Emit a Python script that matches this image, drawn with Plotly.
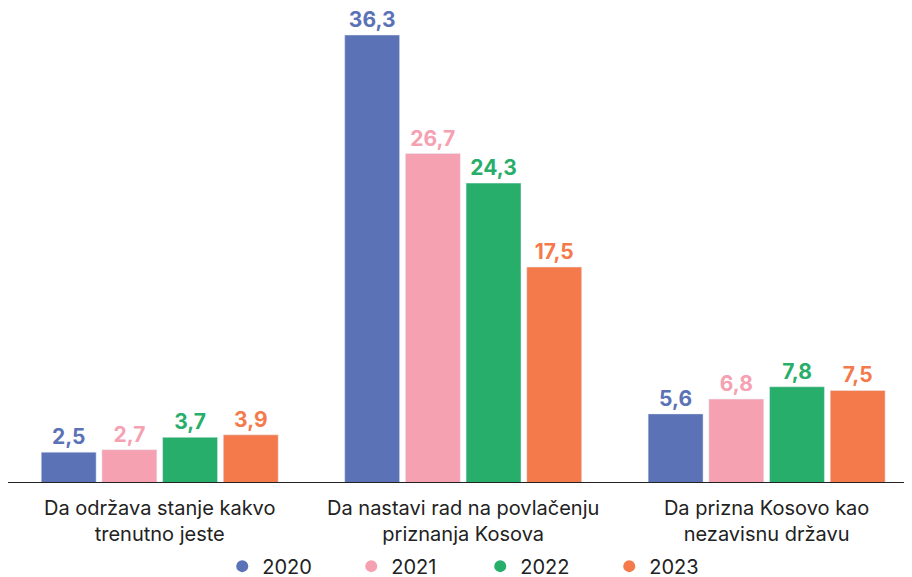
import plotly.graph_objects as go

categories = ["Da održava stanje kakvo<br>trenutno jeste",
              "Da nastavi rad na povlačenju<br>priznanja Kosova",
              "Da prizna Kosovo kao<br>nezavisnu državu"]
years = ["2020", "2021", "2022", "2023"]
values_2020 = [2.5, 36.3, 5.6]
values_2021 = [2.7, 26.7, 6.8]
values_2022 = [3.7, 24.3, 7.8]
values_2023 = [3.9, 17.5, 7.5]
colors = ["#5B72B7", "#F5A1B1", "#27AE6A", "#F47A4B"]

series = [values_2020, values_2021, values_2022, values_2023]

fig = go.Figure()
for yr, vals, col in zip(years, series, colors):
    fig.add_trace(go.Bar(
        x=[0, 1, 2], y=vals, name=yr, marker_color=col,
        text=vals, texttemplate="<b>%{y:.1f}</b>", textposition="outside",
        textfont=dict(color=col, size=21, family="Inter"),
        cliponaxis=False, showlegend=False))
for yr, col in zip(years, colors):
    fig.add_trace(go.Scatter(
        x=[None], y=[None], mode="markers", name=yr,
        marker=dict(color=col, size=17, symbol="circle")))

fig.update_layout(
    width=904, height=569,
    margin=dict(l=0, r=0, t=0, b=94, autoexpand=False),
    paper_bgcolor="white", plot_bgcolor="white",
    barmode="group", bargap=0.2, bargroupgap=0.095,
    separators=",.",
    font=dict(family="Inter", color="#222222"),
    xaxis=dict(range=[-0.5, 2.479], tickvals=[0, 1, 2], ticktext=categories,
               showgrid=False, zeroline=False, showline=False, automargin=False,
               tickfont=dict(size=20, color="#222222"), ticks="",
               ticklabelstandoff=11),
    yaxis=dict(range=[0, 38.49], visible=False, showgrid=False, zeroline=False,
               automargin=False),
    legend=dict(orientation="h", x=0.237, xanchor="left", y=-0.175, yanchor="middle",
                font=dict(size=20, color="#222222"), entrywidth=84,
                itemwidth=30, itemsizing="constant"),
)
fig.add_shape(type="line", xref="paper", yref="y", x0=0, x1=1, y0=0, y1=0,
              line=dict(color="#222222", width=2))
fig.write_html("out.html")
